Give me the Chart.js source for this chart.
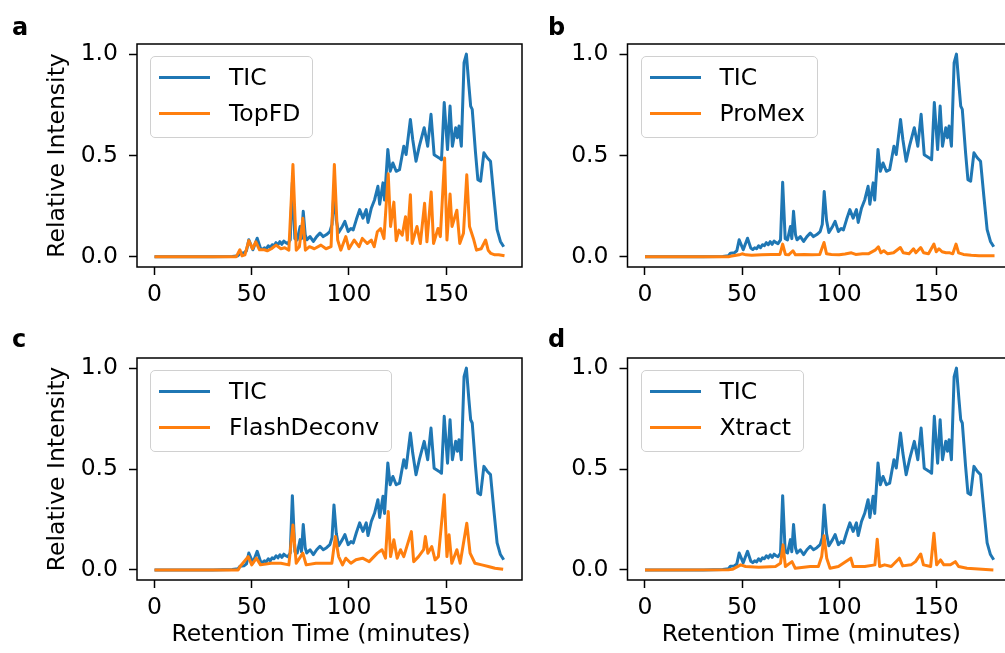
<!DOCTYPE html>
<html><head><meta charset="utf-8">
<script src="https://cdn.jsdelivr.net/npm/chart.js@4"></script>
<style>
html,body{margin:0;padding:0;background:#fff;width:1005px;height:653px;overflow:hidden;position:relative;}
.panel{position:absolute;}
.letter{position:absolute;font:bold 24px 'DejaVu Sans';line-height:24px;color:#000;}
.legend{position:absolute;background:rgba(255,255,255,0.8);border:1.5px solid #d0d0d0;border-radius:5px;padding:2px 12px 5px 8px;z-index:5;}
.row{height:36.6px;display:flex;align-items:center;}
.sw{width:51px;height:3px;margin-right:19px;}
.lbl{font:23.5px 'DejaVu Sans';line-height:1;color:#000;white-space:nowrap;}
.xtitle{position:absolute;width:400px;text-align:center;font:23.5px 'DejaVu Sans';line-height:30px;color:#000;white-space:nowrap;}
</style></head><body>
<script>
// ---------- data ----------
const xTicks = [0, 50, 100, 150];
const yTicks = [0, 0.5, 1.0];
const panelLetters = ['a', 'b', 'c', 'd'];
const methodNames = ['TopFD', 'ProMex', 'FlashDeconv', 'Xtract'];
const xTitleText = 'Retention Time (minutes)';
const yTitleText = 'Relative Intensity';

const ticTime = [0,10,20,30,40,43,44,46,47.3,48.5,50.6,52.8,54.5,55.5,56.5,57.5,58.5,59.5,60.5,61.5,62.5,63.5,64.5,65.5,66.5,67.5,68.5,69.8,70.9,72.2,73.4,74.9,75.6,76.5,77.5,78.3,80,81.7,83.4,85.1,86.8,88.5,90.2,91.3,92.3,93.5,94.7,96.6,97.9,99.6,101,102.2,103.8,105.5,107.2,108.9,109.8,111.5,113.2,114.9,115.8,117.5,118.3,120,121.2,122.6,124.3,126,128.2,129.4,131.6,132.8,134.5,136.2,138.7,140.5,142.2,143.8,146.4,147.6,149,150.7,152,153.2,154.9,155.8,156.6,157.8,159.2,160.4,161.7,162.6,163.4,165.1,166.3,167.7,169.4,171.1,172.8,174.5,176.2,177.9,179.6];
const ticValue = [0,0,0,0,0.002,0.006,0.018,0.02,0.03,0.084,0.035,0.092,0.043,0.036,0.045,0.04,0.055,0.045,0.06,0.055,0.07,0.06,0.075,0.062,0.078,0.07,0.065,0.084,0.368,0.09,0.084,0.15,0.09,0.225,0.11,0.084,0.1,0.076,0.1,0.117,0.1,0.11,0.125,0.16,0.322,0.18,0.12,0.15,0.175,0.125,0.14,0.133,0.184,0.233,0.191,0.233,0.17,0.24,0.282,0.348,0.26,0.365,0.28,0.53,0.422,0.463,0.422,0.43,0.546,0.505,0.678,0.579,0.472,0.546,0.637,0.546,0.703,0.504,0.488,0.479,0.761,0.529,0.744,0.546,0.637,0.588,0.645,0.546,0.958,1.0,0.843,0.744,0.728,0.513,0.381,0.373,0.513,0.489,0.472,0.299,0.134,0.076,0.05];

const topfdTime = [0,42,43.9,45,46.5,48.5,50.4,52.1,54,56.5,58,60.1,62.5,65,67,69.1,71.2,72.9,74.5,76.3,77.6,79.7,82.2,85.6,88.2,90.8,92.5,94.2,95.8,98.4,100,102.7,105.2,106.9,109.4,111.5,113,114.6,116.3,118,120.2,121.4,123.1,124.3,125.7,127.4,129.1,130,131.6,132.5,135,136.7,138.9,140.1,142.3,143.5,145.8,147,149.2,150.4,152,153,155.5,157,158.9,160.6,162,164,165.6,168,170.3,171.6,173,175,177,180];
const topfdValue = [0,0,0.035,0.005,0.01,0.08,0.04,0.074,0.035,0.035,0.03,0.04,0.058,0.04,0.045,0.033,0.455,0.033,0.05,0.19,0.033,0.05,0.04,0.058,0.04,0.05,0.455,0.083,0.033,0.1,0.04,0.083,0.05,0.091,0.066,0.083,0.05,0.124,0.14,0.09,0.41,0.15,0.27,0.08,0.132,0.107,0.198,0.083,0.306,0.066,0.15,0.066,0.264,0.074,0.32,0.066,0.14,0.1,0.488,0.083,0.31,0.15,0.23,0.066,0.116,0.405,0.15,0.091,0.033,0.04,0.083,0.033,0.017,0.01,0.01,0.005];

const promexTime = [0,43,44,48.5,50,52,55,60,65,69.5,70.9,72.3,74,76.2,77.5,82,86,90,92.2,93.5,96,100,103,106.3,108.5,112,115,118.5,120.2,121.5,123,125,128,131.5,133,136,138.3,139.5,142,143.5,146,148.8,150,151.4,153,155,157,158.5,160.2,161.5,164,168,172,176,180];
const promexValue = [0,0,0.003,0.01,0.015,0.01,0.008,0.01,0.012,0.012,0.063,0.012,0.01,0.03,0.01,0.012,0.01,0.012,0.071,0.015,0.012,0.01,0.014,0.02,0.012,0.015,0.015,0.033,0.05,0.02,0.03,0.015,0.02,0.046,0.02,0.015,0.04,0.02,0.046,0.02,0.015,0.063,0.025,0.04,0.025,0.02,0.02,0.015,0.063,0.02,0.012,0.008,0.006,0.005,0.005];

const flashTime = [0,43,44,48.2,50,52.4,54.5,60,65,69.1,71.2,72.9,76.3,78,83,88,91.2,93,94.7,96.7,98.4,101,103.6,107,110.4,114.6,117,118.8,120.2,121.4,123.1,124.8,126.5,128.2,132.1,133.3,135.8,138.4,139.3,140.6,142.6,144.3,146,149,150.4,151.5,152.9,155.5,157.2,160.6,162.3,164.8,168.3,171.7,175.1,179.3];
const flashValue = [0,0,0.017,0.066,0.025,0.058,0.025,0.033,0.033,0.025,0.223,0.033,0.083,0.025,0.033,0.033,0.033,0.165,0.066,0.025,0.058,0.033,0.05,0.058,0.041,0.083,0.1,0.058,0.289,0.066,0.149,0.058,0.1,0.066,0.19,0.041,0.066,0.1,0.165,0.083,0.116,0.05,0.066,0.372,0.066,0.174,0.033,0.1,0.033,0.231,0.083,0.033,0.025,0.017,0.008,0.003];

const xtractTime = [0,43,45,49.3,51.8,58.6,67.2,69.8,71.1,72.3,75.7,77.4,85.1,89.3,91,92.2,93.6,95.3,99.6,106,107.2,113.2,118.4,119.6,120.8,123.4,126.8,131,132.7,137,139.3,142,143.4,147.1,148.8,150.2,152.2,153.9,157.3,159.8,161.5,165.8,179.4];
const xtractValue = [0,0.001,0.003,0.025,0.017,0.013,0.017,0.033,0.124,0.017,0.041,0.008,0.017,0.017,0.066,0.169,0.058,0.008,0.017,0.058,0.017,0.017,0.025,0.152,0.017,0.025,0.017,0.058,0.02,0.025,0.041,0.079,0.025,0.017,0.182,0.025,0.05,0.025,0.025,0.041,0.017,0.008,0.0];

const methodTimes = [topfdTime, promexTime, flashTime, xtractTime];
const methodValues = [topfdValue, promexValue, flashValue, xtractValue];

// ---------- layout / style ----------
const FONT = "'DejaVu Sans'";
const BLUE = '#1f77b4', ORANGE = '#ff7f0e';
const layouts = [
  {left:0,   top:0,   w:530, h:330, padTop:44, padRight:8, yW:137,  xH:63, yTitle:true,  xTitle:false, letterX:12,  letterTop:14.5},
  {left:540, top:0,   w:480, h:330, padTop:44, padRight:8, yW:87.5, xH:63, yTitle:false, xTitle:false, letterX:548, letterTop:14.5},
  {left:0,   top:320, w:530, h:333, padTop:38, padRight:8, yW:137,  xH:73, yTitle:true,  xTitle:true,  letterX:12,  letterTop:326.5},
  {left:540, top:320, w:480, h:333, padTop:38, padRight:8, yW:87.5, xH:73, yTitle:false, xTitle:true,  letterX:548, letterTop:326.5}
];

const framePlugin = {
  id: 'frame',
  afterDatasetsDraw(chart) {
    const {ctx, chartArea: a} = chart;
    ctx.save();
    ctx.strokeStyle = '#000';
    ctx.lineWidth = 1.5;
    ctx.strokeRect(a.left, a.top, a.right - a.left, a.bottom - a.top);
    ctx.restore();
  }
};

function pts(ts, vs) { return ts.map((t, i) => ({x: t, y: vs[i]})); }

layouts.forEach((L, i) => {
  const div = document.createElement('div');
  div.className = 'panel';
  div.style.cssText = `left:${L.left}px;top:${L.top}px;width:${L.w}px;height:${L.h}px;`;
  const cv = document.createElement('canvas');
  cv.width = L.w; cv.height = L.h;
  cv.style.width = L.w + 'px'; cv.style.height = L.h + 'px';
  div.appendChild(cv);
  document.body.appendChild(div);

  const letter = document.createElement('div');
  letter.className = 'letter';
  letter.textContent = panelLetters[i];
  letter.style.left = L.letterX + 'px';
  letter.style.top = L.letterTop + 'px';
  document.body.appendChild(letter);

  const chart = new Chart(cv, {
    type: 'line',
    data: {
      datasets: [
        {label: 'TIC', data: pts(ticTime, ticValue), borderColor: BLUE, borderWidth: 3, pointRadius: 0, tension: 0, order: 2, borderJoinStyle: 'round'},
        {label: methodNames[i], data: pts(methodTimes[i], methodValues[i]), borderColor: ORANGE, borderWidth: 3, pointRadius: 0, tension: 0, order: 1, borderJoinStyle: 'round'}
      ]
    },
    options: {
      responsive: false, maintainAspectRatio: false, animation: false, devicePixelRatio: 1,
      layout: {padding: {top: L.padTop, right: L.padRight, left: 0, bottom: 0}},
      plugins: {legend: {display: false}, tooltip: {enabled: false}},
      scales: {
        x: {
          type: 'linear', min: -9, max: 189,
          afterBuildTicks: s => { s.ticks = xTicks.map(v => ({value: v})); },
          afterFit: s => { s.height = L.xH; },
          ticks: {color: '#000', font: {family: FONT, size: 23.5}, padding: 6, maxRotation: 0, callback: v => String(v)},
          grid: {drawOnChartArea: false, drawTicks: true, tickLength: 8, tickColor: '#000', tickWidth: 1.5},
          border: {display: false},
          title: {display: false}
        },
        y: {
          type: 'linear', min: -0.05, max: 1.05,
          afterBuildTicks: s => { s.ticks = yTicks.map(v => ({value: v})); },
          afterFit: s => { s.width = L.yW; },
          ticks: {color: '#000', font: {family: FONT, size: 23.5}, padding: 11, callback: v => v.toFixed(1)},
          grid: {drawOnChartArea: false, drawTicks: true, tickLength: 8, tickColor: '#000', tickWidth: 1.5},
          border: {display: false},
          title: {display: L.yTitle, text: yTitleText, color: '#000', font: {family: FONT, size: 23.5}, padding: {top: 44, bottom: 0}}
        }
      }
    },
    plugins: [framePlugin]
  });

  const ca = chart.chartArea;

  // x-axis title (as real text below the axes)
  if (L.xTitle) {
    const xt = document.createElement('div');
    xt.className = 'xtitle';
    xt.textContent = xTitleText;
    const cx = L.left + (ca.left + ca.right) / 2 - 8.5;
    xt.style.left = (cx - 200) + 'px';
    xt.style.top = '617.5px';
    document.body.appendChild(xt);
  }

  // HTML legend inside the axes (upper left)
  const lg = document.createElement('div');
  lg.className = 'legend';
  lg.style.left = (L.left + ca.left + 13) + 'px';
  lg.style.top = (L.top + ca.top + 12) + 'px';
  [[ 'TIC', BLUE ], [ methodNames[i], ORANGE ]].forEach(([name, col]) => {
    const r = document.createElement('div'); r.className = 'row';
    const sw = document.createElement('div'); sw.className = 'sw'; sw.style.background = col;
    const lb = document.createElement('span'); lb.className = 'lbl'; lb.textContent = name;
    r.appendChild(sw); r.appendChild(lb); lg.appendChild(r);
  });
  document.body.appendChild(lg);
});
</script>
</body></html>
